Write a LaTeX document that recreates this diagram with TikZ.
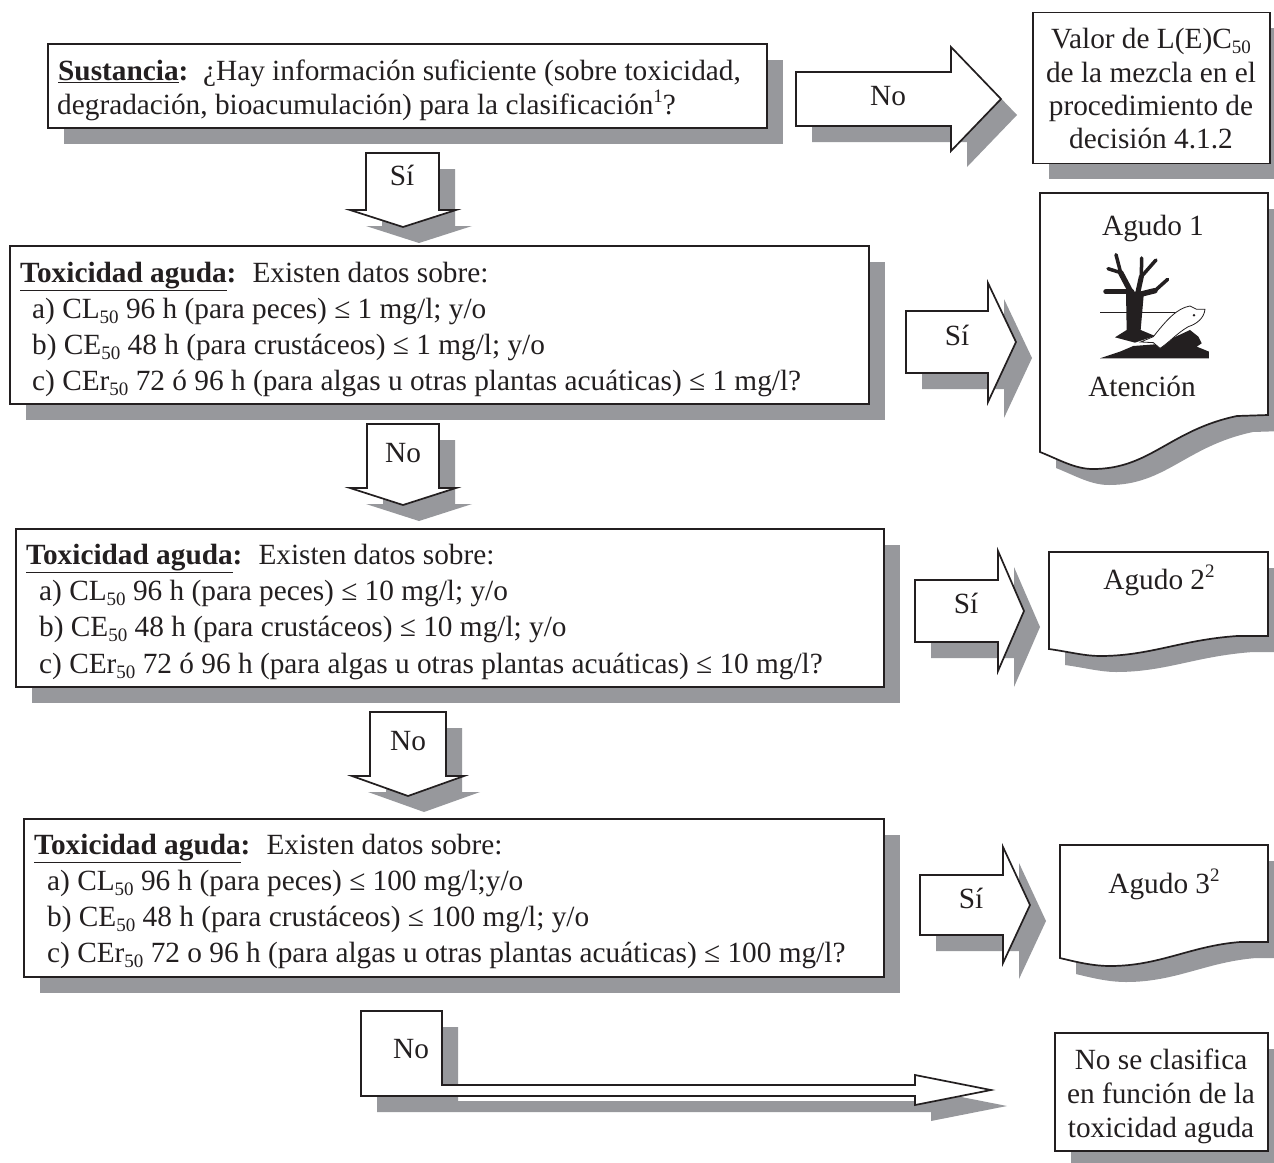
\documentclass[tikz,border=0pt]{standalone}
\usepackage{fontspec}
\setmainfont{Liberation Serif}
\usetikzlibrary{shadows}
\definecolor{ink}{HTML}{231F20}
\definecolor{shad}{HTML}{97989C}
\tikzset{
  panel/.style={draw=ink,fill=white,line width=1.7pt,inner sep=0pt,anchor=north west,
    general shadow={shadow xshift=16pt,shadow yshift=-16pt,fill=shad}},
  blocktip/.style={draw=ink,fill=white,line width=1.7pt,line join=miter},
  shadowpart/.style={fill=shad,shift={(16,16)}},
  lab/.style={inner sep=0pt,anchor=base west,text=ink,font=\fontsize{29.3}{34}\selectfont},
  mid/.style={inner sep=0pt,anchor=base,text=ink,font=\fontsize{29.3}{34}\selectfont},
}
\newcommand{\twin}[1]{\fill[shadowpart] #1; \draw[blocktip] #1;}
\newcommand{\hd}[1]{\underline{\textbf{#1}}\textbf{:}}
\newcommand{\sbs}[1]{\raisebox{-5pt}{\fontsize{19}{19}\selectfont #1}}
\newcommand{\sps}[1]{\raisebox{12pt}{\fontsize{19}{19}\selectfont #1}}
\begin{document}
\begin{tikzpicture}[x=1pt,y=-1pt]
\useasboundingbox (0,0) rectangle (1274,1162);
\clip (0,0) rectangle (1274,1162);
\fill[white] (0,0) rectangle (1274,1162);
% boxes
\node[panel,minimum width=719pt,minimum height=84pt] (b1) at (47,43) {};
\node[panel,minimum width=237pt,minimum height=151pt] (b2) at (1032,11.5) {};
\node[panel,minimum width=859pt,minimum height=158pt] (b3) at (9,245) {};
\node[panel,minimum width=868pt,minimum height=158pt] (b4) at (15,528) {};
\node[panel,minimum width=860pt,minimum height=158pt] (b5) at (23,818) {};
\node[panel,minimum width=213pt,minimum height=118pt] (b6) at (1054,1032) {};
% block arrows
\twin{(796,72) -- (951,72) -- (951,47) -- (1001,99) -- (951,151) -- (951,126) -- (796,126) -- cycle}
\twin{(366,153) -- (439,153) -- (439,210) -- (456,210) -- (403,227) -- (350,210) -- (366,210) -- cycle}
\twin{(367,424) -- (439,424) -- (439,488) -- (456,488) -- (403,505) -- (350,488) -- (367,488) -- cycle}
\twin{(370,712) -- (446,712) -- (446,776) -- (464,776) -- (408,796) -- (352,776) -- (370,776) -- cycle}
\twin{(906,311) -- (988,311) -- (988,283) -- (1016,342) -- (988,402) -- (988,373) -- (906,373) -- cycle}
\twin{(915,580) -- (998,580) -- (998,551) -- (1024,611) -- (998,671) -- (998,642) -- (915,642) -- cycle}
\twin{(920,875) -- (1003,875) -- (1003,847) -- (1030,905) -- (1003,963) -- (1003,935) -- (920,935) -- cycle}
\twin{(361,1011) -- (442,1011) -- (442,1085) -- (915,1085) -- (915,1075) -- (991,1090) -- (915,1105) -- (915,1096) -- (361,1096) -- cycle}
% documents
\twin{(1040,193) -- (1268,193) -- (1268,415) -- (1237,416) .. controls (1170,430) and (1150,469) .. (1093,469) .. controls (1075,469) and (1060,460) .. (1040,452) -- cycle}
\twin{(1049,552) -- (1268,552) -- (1268,636) -- (1237,636) .. controls (1180,640) and (1150,656) .. (1100,656) .. controls (1085,656) and (1070,652) .. (1049,649) -- cycle}
\twin{(1060,845) -- (1268,845) -- (1268,942) -- (1240,942) .. controls (1190,946) and (1160,966) .. (1110,966) .. controls (1095,966) and (1080,963) .. (1060,958) -- cycle}
% symbol
\begin{scope}[shift={(1020,180)},x=0.3333pt,y=-0.3333pt]
\draw[ink,line width=1.2pt] (240,398) -- (480,398);
\fill[ink] (318,335) -- (372,335) -- (362,450) -- (405,468) -- (345,488) -- (285,472) -- (320,450) -- cycle;
\draw[ink,line width=5.5pt,line cap=round] (340,350) -- (302,278);
\draw[ink,line width=3.5pt,line cap=round] (302,278) -- (288,224);
\draw[ink,line width=3.5pt,line cap=round] (302,278) -- (264,266);
\draw[ink,line width=5.5pt,line cap=round] (335,335) -- (258,335);
\draw[ink,line width=5pt,line cap=round] (352,345) -- (364,290);
\draw[ink,line width=3.5pt,line cap=round] (364,290) -- (365,234);
\draw[ink,line width=3.5pt,line cap=round] (364,290) -- (408,240);
\draw[ink,line width=5.5pt,line cap=round] (352,345) -- (405,332);
\draw[ink,line width=3.5pt,line cap=round] (405,332) -- (443,298);
\fill[ink] (240,535) -- (300,515) -- (340,498) -- (420,492) -- (510,450) -- (535,470) -- (545,490) -- (530,500) -- (555,510) -- (567,515) -- (567,535) -- cycle;
\draw[ink,fill=white,line width=0.8pt] (362,486) -- (400,470) .. controls (440,420) and (470,385) .. (510,378) -- (530,388) -- (555,388) .. controls (552,415) and (530,432) .. (505,440) .. controls (470,460) and (445,490) .. (420,505) -- (400,488) -- cycle;
\fill[ink] (522,406) circle (4);
\end{scope}
% text
\node[lab] (t1a) at (58,80) {\hd{Sustancia}\ \ ¿Hay información suficiente (sobre toxicidad,};
\node[lab] (t1b) at (57,114) {degradación, bioacumulación) para la clasificación\sps{1}?};
\node[mid] (no1) at (888,105) {No};
\node[mid] (v1) at (1151,48) {Valor de L(E)C\sbs{50}};
\node[mid] (v2) at (1151,82) {de la mezcla en el};
\node[mid] (v3) at (1151,115) {procedimiento de};
\node[mid] (v4) at (1151,148) {decisión 4.1.2};
\node[mid] (si1) at (402,185) {Sí};
\node[lab] (t2a) at (20,282) {\hd{Toxicidad aguda}\hspace{16pt}Existen datos sobre:};
\node[lab] (t2b) at (32,318) {a) CL\sbs{50} 96 h (para peces) ≤ 1 mg/l; y/o};
\node[lab] (t2c) at (32,354) {b) CE\sbs{50} 48 h (para crustáceos) ≤ 1 mg/l; y/o};
\node[lab] (t2d) at (32,390) {c) CEr\sbs{50} 72 ó 96 h (para algas u otras plantas acuáticas) ≤ 1 mg/l?};
\node[mid] (si2) at (957,345) {Sí};
\node[mid] (ag1) at (1153,235) {Agudo 1};
\node[mid] (at1) at (1142,396) {Atención};
\node[mid] (no2) at (403,462) {No};
\node[lab] (t3a) at (26,564) {\hd{Toxicidad aguda}\hspace{16pt}Existen datos sobre:};
\node[lab] (t3b) at (39,600) {a) CL\sbs{50} 96 h (para peces) ≤ 10 mg/l; y/o};
\node[lab] (t3c) at (39,636) {b) CE\sbs{50} 48 h (para crustáceos) ≤ 10 mg/l; y/o};
\node[lab] (t3d) at (39,673) {c) CEr\sbs{50} 72 ó 96 h (para algas u otras plantas acuáticas) ≤ 10 mg/l?};
\node[mid] (si3) at (966,613) {Sí};
\node[mid] (ag2) at (1159,589) {Agudo 2\sps{2}};
\node[mid] (no3) at (408,750) {No};
\node[lab] (t4a) at (34,854) {\hd{Toxicidad aguda}\hspace{16pt}Existen datos sobre:};
\node[lab] (t4b) at (47,890) {a) CL\sbs{50} 96 h (para peces) ≤ 100 mg/l;y/o};
\node[lab] (t4c) at (47,926) {b) CE\sbs{50} 48 h (para crustáceos) ≤ 100 mg/l; y/o};
\node[lab] (t4d) at (47,962) {c) CEr\sbs{50} 72 o 96 h (para algas u otras plantas acuáticas) ≤ 100 mg/l?};
\node[mid] (si4) at (971,908) {Sí};
\node[mid] (ag3) at (1164,893) {Agudo 3\sps{2}};
\node[mid] (no4) at (411,1058) {No};
\node[mid] (n1) at (1161,1069) {No se clasifica};
\node[mid] (n2) at (1161,1103) {en función de la};
\node[mid] (n3) at (1161,1137) {toxicidad aguda};
\end{tikzpicture}
\end{document}
